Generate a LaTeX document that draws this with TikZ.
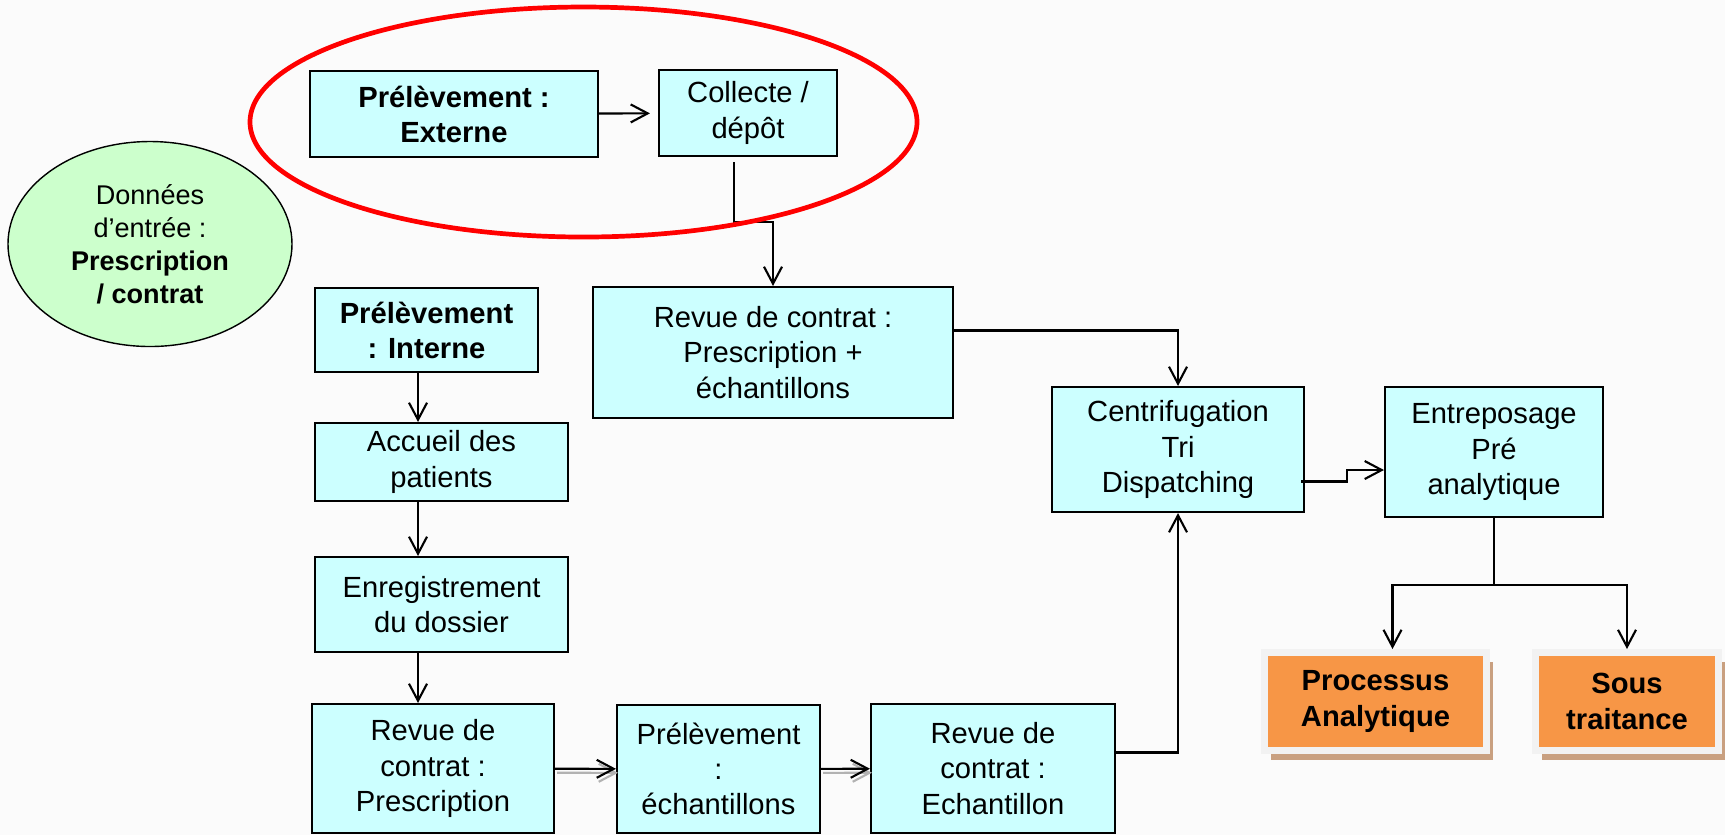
\documentclass[tikz,border=0pt]{standalone}
\usepackage{fontspec}
\setmainfont{Liberation Sans}
\usepackage{tikz}
\usetikzlibrary{positioning,calc,arrows.meta,shapes.geometric,shadows}
\definecolor{boxcyan}{RGB}{204,255,255}
\definecolor{inputgreen}{RGB}{204,255,204}
\definecolor{outorange}{RGB}{247,150,70}
\definecolor{outframe}{RGB}{242,242,242}
\definecolor{outshadow}{RGB}{201,160,128}
\definecolor{paper}{RGB}{251,251,251}

\begin{document}
\begin{tikzpicture}[
  x=0.1mm, y=-0.1mm,
  every node/.style={font=\fontsize{8.3}{10}\selectfont},
  bold/.style={font=\fontsize{8.3}{10}\selectfont\bfseries},
  box/.style={draw, fill=boxcyan, line width=0.6pt, align=center, inner sep=2pt},
  outbox/.style={fill=outorange, draw=outframe, line width=0.7mm, align=center, inner sep=2pt, bold,
    drop shadow={shadow xshift=0.6mm, shadow yshift=-0.9mm, fill=outshadow, opacity=1}},
  link/.style={->, line width=0.6pt},
  arrowshadow/.style={preaction={draw=black!30, line width=0.6pt, transform canvas={shift={(0.2mm,-0.4mm)}}}},
  >={Straight Barb[length=1.7mm,width=1.8mm]}
]
\fill[paper] (0,0) rectangle (1725,835);
\useasboundingbox (0,0) rectangle (1725,835);

\node[ellipse, draw, fill=inputgreen, line width=0.4pt, minimum width=28.4mm, minimum height=20.5mm, inner sep=0pt, align=center, font=\fontsize{7.7}{9.4}\selectfont] (donnees) at (150,244) {Données\\d’entrée :\\\textbf{Prescription}\\\textbf{/ contrat}};

\node[box, bold, minimum width=28.8mm, minimum height=8.6mm] (ext) at (454,114) {Prélèvement :\\Externe};
\node[box, minimum width=17.8mm, minimum height=8.6mm] (coll) at (748,113) {Collecte /\\dépôt};
\node[box, minimum width=36mm, minimum height=13.1mm] (revpe) at (773,352.5) {Revue de contrat :\\Prescription +\\échantillons};

\node[box, bold, minimum width=22.3mm, minimum height=8.4mm] (intern) at (426.5,330) {Prélèvement\\: Interne};
\node[box, minimum width=25.3mm, minimum height=7.8mm] (accueil) at (441.5,462) {Accueil des\\patients};
\node[box, minimum width=25.3mm, minimum height=9.5mm] (enreg) at (441.5,604.5) {Enregistrement\\du dossier};
\node[box, minimum width=24.2mm, minimum height=12.9mm] (revp) at (433,768.5) {Revue de\\contrat :\\Prescription};
\node[box, minimum width=20.3mm, minimum height=12.8mm] (prelech) at (718.5,769) {Prélèvement\\:\\échantillons};
\node[box, minimum width=24.4mm, minimum height=12.9mm] (revech) at (993,768.5) {Revue de\\contrat :\\Echantillon};

\node[box, minimum width=25.2mm, minimum height=12.5mm] (centri) at (1178,449.5) {Centrifugation\\Tri\\Dispatching};
\node[box, minimum width=21.8mm, minimum height=13mm] (entre) at (1494,452) {Entreposage\\Pré\\analytique};

\node[outbox, minimum width=22.2mm, minimum height=9.8mm] (proc) at (1375.5,701.5) {Processus\\Analytique};
\node[outbox, minimum width=18.3mm, minimum height=9.8mm] (sous) at (1627,701.5) {Sous\\traitance};

\coordinate (colx) at (418,0);
\draw[link, shorten >=0.8mm] (ext) -- (coll);
\draw[link] ($(coll.south)+(-14,5)$) |- ($(revpe.north)+(0,-64)$) -- (revpe.north);
\draw[link] (intern.south -| colx) -- (accueil.north -| colx);
\draw[link] (accueil.south -| colx) -- (enreg.north -| colx);
\draw[link] (enreg.south -| colx) -- (revp.north -| colx);
\draw[link, arrowshadow] (revp) -- (prelech);
\draw[link, arrowshadow] (prelech) -- (revech);
\draw[link] ($(revpe.east)+(0,-22)$) -| (centri.north);
\draw[link] ($(revech.east)+(0,-16)$) -| (centri.south);
\draw[link] ($(centri.east)+(-4,32)$) -- ++(46,0) |- ($(entre.west)+(0,18)$);
\draw[link] (entre.south) -- ++(0,67) -| ($(proc.north)+(17,0)$);
\draw[link] (entre.south) -- ++(0,67) -| (sous.north);

\node[ellipse, draw=red, line width=0.47mm, minimum width=66.7mm, minimum height=23mm, inner sep=0pt] (extzone) at (583.5,122) {};
\end{tikzpicture}
\end{document}
